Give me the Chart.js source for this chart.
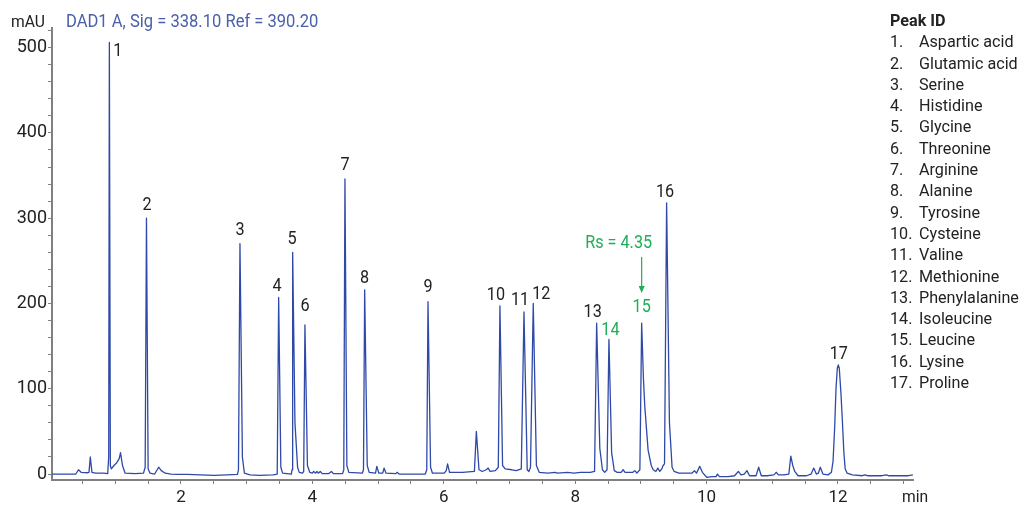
<!DOCTYPE html>
<html>
<head>
<meta charset="utf-8">
<script src="https://cdn.jsdelivr.net/npm/chart.js@4.4.1/dist/chart.umd.min.js"></script>
<style>
  html, body { margin: 0; padding: 0; background: #fff; }
  #wrap { position: relative; width: 1022px; height: 506px; overflow: hidden; }
  #chart { position: absolute; left: 0; top: 0; }
  #legend {
    position: absolute; left: 890px; top: 10px;
    font-family: Roboto, "Liberation Sans", sans-serif; font-size: 17px; color: #222;
    line-height: 21.3px; transform: scaleX(0.95); transform-origin: 0 0; white-space: nowrap;
  }
  #legend .head { font-weight: bold; }
  #legend .num { display: inline-block; width: 30.5px; }
</style>
</head>
<body>
<div id="wrap">
  <canvas id="chart" width="1022" height="506"></canvas>
  <div id="legend"></div>
</div>
<script>
// ---------------- data ----------------
const signalTitle = "DAD1 A, Sig = 338.10 Ref = 390.20";
const yAxisUnit = "mAU";
const xAxisUnit = "min";

const retentionTime = [
  0.037, 0.40, 0.44, 0.48, 0.58, 0.60, 0.62, 0.645, 0.70, 0.82, 0.885, 0.90, 0.91, 0.925, 0.94, 0.98,
  1.02, 1.06, 1.08, 1.11, 1.15, 1.30, 1.43, 1.455, 1.475, 1.50, 1.53, 1.60, 1.66, 1.70, 1.76, 1.85,
  1.95, 2.10, 2.30, 2.50, 2.70, 2.86, 2.875, 2.898, 2.935, 2.965, 3.05, 3.20, 3.40, 3.465, 3.487, 3.52,
  3.547, 3.68, 3.69, 3.70, 3.735, 3.775, 3.80, 3.85, 3.868, 3.887, 3.925, 3.96, 4.00, 4.02, 4.05, 4.07,
  4.09, 4.12, 4.15, 4.25, 4.29, 4.32, 4.46, 4.478, 4.496, 4.525, 4.555, 4.76, 4.778, 4.796, 4.835, 4.865,
  4.961, 4.981, 5.011, 5.071, 5.091, 5.121, 5.27, 5.29, 5.32, 5.719, 5.741, 5.760, 5.799, 5.828, 6.008, 6.038,
  6.058, 6.088, 6.287, 6.466, 6.496, 6.536, 6.586, 6.646, 6.676, 6.705, 6.785, 6.83, 6.855, 6.895, 6.935, 7.035,
  7.105, 7.18, 7.221, 7.27, 7.295, 7.32, 7.362, 7.41, 7.453, 7.583, 7.693, 7.733, 7.882, 7.982, 8.082, 8.231,
  8.295, 8.327, 8.375, 8.415, 8.45, 8.485, 8.514, 8.555, 8.595, 8.64, 8.70, 8.73, 8.76, 8.879, 8.909, 8.939,
  8.985, 9.012, 9.04, 9.06, 9.11, 9.158, 9.188, 9.228, 9.258, 9.288, 9.318, 9.338, 9.36, 9.392, 9.435, 9.475,
  9.507, 9.577, 9.777, 9.816, 9.846, 9.896, 9.936, 10.006, 10.075, 10.145, 10.165, 10.195, 10.325, 10.425, 10.484, 10.524,
  10.574, 10.614, 10.654, 10.753, 10.793, 10.833, 10.923, 11.023, 11.063, 11.093, 11.172, 11.252, 11.282, 11.312, 11.342, 11.392,
  11.521, 11.591, 11.631, 11.671, 11.701, 11.731, 11.771, 11.85, 11.90, 11.925, 11.95, 11.97, 11.99, 12.005, 12.02, 12.045,
  12.066, 12.09, 12.11, 12.14, 12.22, 12.37, 12.41, 12.45, 12.67, 12.74, 12.77, 12.97, 13.07, 13.14
];
const absorbance = [
  0, 0, 5, 2, 1.5, 2, 20, 2, 1, 1, 0.5, 20, 506, 10, 6, 10,
  13, 18, 25, 10, 1, 0.5, 1, 8, 300, 6, 1, 0, 8, 4, 1, 0,
  -0.5, -0.5, -1, -1.5, -1, -0.5, 5, 270, 20, 1, -1, -1.5, -1, 0, 207, 8,
  1, 0, 5, 260, 60, 8, 2, 1, 3, 175, 10, 2, 1, 3, 1, 3,
  1, 3, 0.5, 0.5, 3, 0.5, 0.5, 5, 346, 10, 2, 1, 5, 216, 10, 2,
  1, 9, 1, 1, 7, 1, 0.5, 2, 0, 0, 5, 202, 8, 1, 1, 4,
  12, 2, 2, 3, 50, 5, 3, 5, 7, 3, 4, 8, 197, 10, 6, 5,
  4, 6, 190, 5, 3, 8, 200, 10, 2, 1, 2, 1, 2, 1, 2, 2,
  3, 177, 30, 5, 2, 5, 158, 25, 4, 2, 2, 5, 2, 2, 4, 1,
  5, 177, 110, 79, 28, 10, 5, 3, 7, 3, 6, 10, 12, 318, 60, 8,
  3, 1, 1, 4, 1, 9, 2, -4, -3, -3, 0, -3, -3, -2, 3, -1,
  0, 4, -2, -2, 8, -2, -2, -1, 2, -1, -1, 0, 21, 10, 3, -2,
  -2, 0, 7, 0, 1, 8, 0, -1, 2, 15, 55, 100, 124, 128, 124, 95,
  64, 25, 6, 1, -1, -2, -1, -2, -2, -1, -2, -2, -2, -1
];

const peakNumber = [1, 2, 3, 4, 5, 6, 7, 8, 9, 10, 11, 12, 13, 14, 15, 16, 17];
const peakName = ["Aspartic acid", "Glutamic acid", "Serine", "Histidine", "Glycine", "Threonine",
  "Arginine", "Alanine", "Tyrosine", "Cysteine", "Valine", "Methionine", "Phenylalanine",
  "Isoleucine", "Leucine", "Lysine", "Proline"];
const peakTime = [0.91, 1.475, 2.898, 3.487, 3.70, 3.887, 4.496, 4.796, 5.76, 6.855, 7.221, 7.362, 8.327, 8.514, 9.012, 9.392, 12.005];
const peakHeight = [506, 300, 270, 207, 260, 175, 346, 216, 202, 197, 190, 200, 177, 158, 177, 318, 128];

const resolutionValue = 4.35;      // resolution between peaks 14 and 15
const resolvedPeaks = [14, 15];

const xTickValues = [0.5, 1, 1.5, 2, 2.5, 3, 3.5, 4, 4.5, 5, 5.5, 6, 6.5, 7, 7.5, 8, 8.5, 9, 9.5, 10, 10.5, 11, 11.5, 12, 12.5, 13];
const xTickLabels = [2, 4, 6, 8, 10, 12];
const yTickValues = [0, 20, 40, 60, 80, 100, 120, 140, 160, 180, 200, 220, 240, 260, 280, 300, 320, 340, 360, 380, 400, 420, 440, 460, 480, 500, 520];
const yTickLabels = [0, 100, 200, 300, 400, 500];

// ---------------- styles / layout ----------------
const LINE_COLOR = '#2f49a8';
const TITLE_COLOR = '#4a60ab';
const TEXT_COLOR = '#222';
const GREEN = '#1fae57';
const AXIS_COLOR = '#808080';
const FONT = 'Roboto, "Liberation Sans", sans-serif';

// label offsets in pixels relative to apex (layout only)
const labelOffset = {
  1: [8.5, 7], 2: [0.5, -15], 3: [0, -15], 4: [-1.5, -13], 5: [-0.5, -14.5], 6: [0, -20],
  7: [0, -15], 8: [0, -13], 9: [0, -16], 10: [-4, -12], 11: [-4, -13], 12: [8, -11],
  13: [-4, -12], 14: [1.5, -11], 15: [0, -17], 16: [-1.5, -12], 17: [0.5, -12.5]
};

function drawText(ctx, txt, x, yCenter, size, color, align, bold, sx) {
  ctx.save();
  ctx.font = (bold ? 'bold ' : '') + size + 'px ' + FONT;
  ctx.fillStyle = color;
  ctx.textAlign = align || 'center';
  ctx.textBaseline = 'alphabetic';
  ctx.translate(x, yCenter + 0.355 * size);
  ctx.scale(sx || 0.92, 1);
  ctx.fillText(txt, 0, 0);
  ctx.restore();
}

const annotationPlugin = {
  id: 'chromAnnotations',
  afterDraw(chart) {
    const ctx = chart.ctx;
    const xs = chart.scales.x, ys = chart.scales.y;
    const area = chart.chartArea;
    // peak labels
    peakNumber.forEach((n, i) => {
      const px = xs.getPixelForValue(peakTime[i]);
      const py = ys.getPixelForValue(peakHeight[i]);
      const off = labelOffset[n] || [0, -14];
      const col = resolvedPeaks.includes(n) ? GREEN : TEXT_COLOR;
      drawText(ctx, String(n), px + off[0], py + off[1], 18, col, 'center', false, 0.9);
    });
    // resolution annotation above peak 15
    const k = peakNumber.indexOf(resolvedPeaks[1]);
    const ax = xs.getPixelForValue(peakTime[k]);
    const ay = ys.getPixelForValue(peakHeight[k]);
    drawText(ctx, 'Rs = ' + resolutionValue.toFixed(2), ax - 23, ay - 81, 18, GREEN, 'center', false, 0.9);
    ctx.save();
    ctx.strokeStyle = GREEN; ctx.fillStyle = GREEN; ctx.lineWidth = 1.2;
    ctx.beginPath(); ctx.moveTo(ax, ay - 66); ctx.lineTo(ax, ay - 34); ctx.stroke();
    ctx.beginPath(); ctx.moveTo(ax - 3, ay - 37); ctx.lineTo(ax + 3, ay - 37); ctx.lineTo(ax, ay - 30); ctx.closePath(); ctx.fill();
    ctx.restore();
    // axis unit labels and title
    drawText(ctx, yAxisUnit, area.left - 7, 21, 17, TEXT_COLOR, 'right', false, 0.92);
    drawText(ctx, xAxisUnit, area.right - 11, 496, 17, TEXT_COLOR, 'left', false, 0.92);
    drawText(ctx, signalTitle, area.left + 14, 21, 18, TITLE_COLOR, 'left', false, 0.92);
  }
};

const points = retentionTime.map((t, i) => ({ x: t, y: absorbance[i] }));

new Chart(document.getElementById('chart'), {
  type: 'scatter',
  data: {
    datasets: [{
      data: points,
      showLine: true,
      borderColor: LINE_COLOR,
      borderWidth: 1.3,
      borderJoinStyle: 'round',
      pointRadius: 0,
      tension: 0,
      fill: false
    }]
  },
  options: {
    responsive: false,
    animation: false,
    devicePixelRatio: 1,
    layout: { padding: { top: 28, right: 109, left: 0, bottom: 0 } },
    plugins: { legend: { display: false }, tooltip: { enabled: false }, title: { display: false } },
    scales: {
      x: {
        type: 'linear', position: 'bottom', min: 0.037, max: 13.142,
        afterBuildTicks: s => { s.ticks = xTickValues.map(v => ({ value: v })); },
        afterFit: s => { s.height = 26; },
        grid: { drawOnChartArea: false, drawTicks: true, tickLength: 4, tickColor: AXIS_COLOR, tickWidth: 1 },
        border: { display: true, color: AXIS_COLOR, width: 2 },
        ticks: {
          autoSkip: false, maxRotation: 0, padding: 4, color: TEXT_COLOR,
          font: { family: FONT, size: 17 },
          callback: v => xTickLabels.includes(v) ? String(v) : ''
        }
      },
      y: {
        type: 'linear', min: -7, max: 523,
        afterBuildTicks: s => { s.ticks = yTickValues.map(v => ({ value: v })); },
        afterFit: s => { s.width = 52; },
        grid: { drawOnChartArea: false, drawTicks: true, tickLength: 4, tickColor: AXIS_COLOR, tickWidth: 1 },
        border: { display: true, color: AXIS_COLOR, width: 2 },
        ticks: {
          autoSkip: false, padding: 1, color: TEXT_COLOR,
          font: { family: FONT, size: 18 },
          callback: v => yTickLabels.includes(v) ? String(v) : ''
        }
      }
    }
  },
  plugins: [annotationPlugin]
});

// legend (peak identification list)
const legend = document.getElementById('legend');
const head = document.createElement('div');
head.className = 'head';
head.textContent = 'Peak ID';
legend.appendChild(head);
peakNumber.forEach((n, i) => {
  const row = document.createElement('div');
  const num = document.createElement('span');
  num.className = 'num';
  num.textContent = n + '.';
  const name = document.createElement('span');
  name.textContent = peakName[i];
  row.appendChild(num);
  row.appendChild(name);
  legend.appendChild(row);
});
</script>
</body>
</html>
